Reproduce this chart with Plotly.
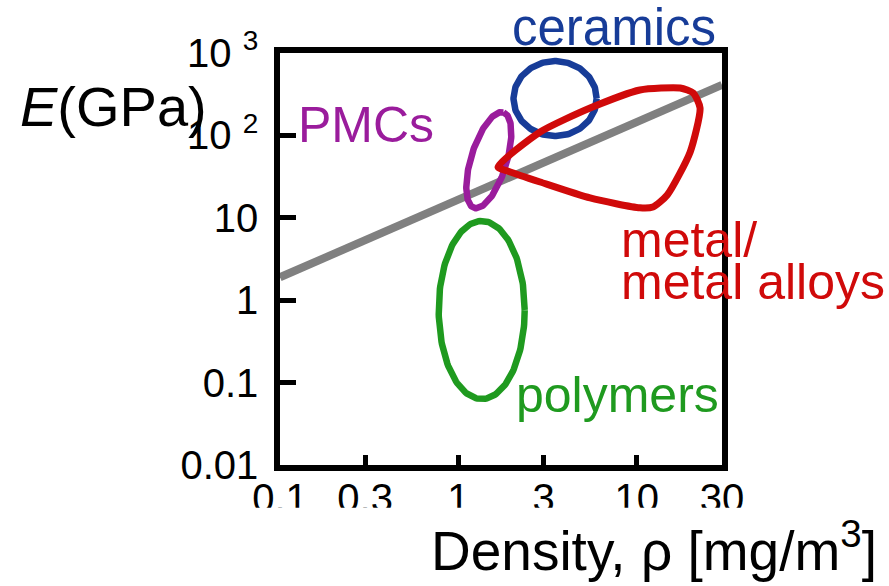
import numpy as np
import plotly.graph_objects as go

FONT = "Liberation Sans, Arial, sans-serif"

# Axis ticks
x_tickvals = [0.1, 0.3, 1, 3, 10, 30]
x_ticktext = ["0.1", "0.3", "1", "3", "10", "30"]
y_tickvals = [0.01, 0.1, 1, 10, 100, 1000]
y_ticktext = ["0.01", "0.1", "1", "10", "10 <sup>2</sup>", "10 <sup>3</sup>"]

# Grey guide line (density, modulus)
guide_density = [0.1, 30]
guide_modulus = [1.9, 410]

# Material families as ellipses in log-log space:
# centre (density, modulus) and two half-axis vectors in decades (dlog rho, dlog E)
ceramics_centre = (3.48, 280)
ceramics_axes = ((0.233, 0.0), (0.0, 0.455))

pmc_centre = (1.48, 50)
pmc_axes = ((0.082, 0.58), (0.096, -0.064))

polymer_centre = (1.35, 0.76)
polymer_axes = ((0.241, 0.0), (0.0, 1.08))

# Metal / metal alloy envelope outline (density, modulus)
metal_density = [1.667, 2.87, 5.47, 10.4, 17.5, 20.7, 22.6, 19.9, 14.8, 12.3, 10.4, 5.47, 2.87, 1.95, 1.667]
metal_modulus = [41.4, 110, 215, 356, 376, 327, 215, 63, 18.9, 13.5, 13.2, 17.4, 27.2, 36.0, 41.4]

BLUE = "#173c98"
PURPLE = "#9a1c9c"
RED = "#d00a0a"
GREEN = "#1f9a1f"
GREY = "#808080"


def ellipse(centre, axes, n=200):
    t = np.linspace(0, 2 * np.pi, n)
    (ux, uy), (vx, vy) = axes
    lx = np.log10(centre[0]) + ux * np.cos(t) + vx * np.sin(t)
    ly = np.log10(centre[1]) + uy * np.cos(t) + vy * np.sin(t)
    return 10 ** lx, 10 ** ly


fig = go.Figure()

fig.add_trace(go.Scatter(x=guide_density, y=guide_modulus, mode="lines",
                         line=dict(color=GREY, width=8), hoverinfo="skip"))

for centre, axes, colour in [(ceramics_centre, ceramics_axes, BLUE),
                             (pmc_centre, pmc_axes, PURPLE),
                             (polymer_centre, polymer_axes, GREEN)]:
    ex, ey = ellipse(centre, axes)
    fig.add_trace(go.Scatter(x=ex, y=ey, mode="lines",
                             line=dict(color=colour, width=6.5), hoverinfo="skip"))

fig.add_trace(go.Scatter(x=metal_density, y=metal_modulus, mode="lines",
                         line=dict(color=RED, width=7, shape="spline", smoothing=0.6),
                         hoverinfo="skip"))

axis_common = dict(type="log", showgrid=False, zeroline=False, showline=True,
                   linewidth=5.5, linecolor="black", mirror=True, ticks="inside",
                   tickwidth=5, tickcolor="black",
                   tickfont=dict(family=FONT, size=40, color="black"))

fig.update_xaxes(range=[-1, np.log10(30)], tickvals=x_tickvals, ticktext=x_ticktext,
                 ticklen=10, ticklabelstandoff=-7, **axis_common)
fig.update_yaxes(range=[-2, 3], tickvals=y_tickvals, ticktext=y_ticktext,
                 ticklen=16, ticklabelstandoff=8, **axis_common)


def label(text, x, y, colour, size=50, xanchor="left"):
    fig.add_annotation(text=text, x=x, y=y, xref="paper", yref="paper",
                       xanchor=xanchor, yanchor="middle", showarrow=False,
                       font=dict(family=FONT, size=size, color=colour))


label("ceramics", 0.520, 1.061, BLUE, size=51)
label("PMCs", 0.036, 0.825, PURPLE)
label("metal/", 0.768, 0.546, RED)
label("metal alloys", 0.768, 0.444, RED)
label("polymers", 0.530, 0.17, GREEN)
label("<i>E</i>(GPa)", -0.592, 0.869, "black", size=56)
label("Density, \u03c1 [mg/m<sup>3</sup>]", 0.338, -0.198, "black", size=55)

# White band trimming the lower edge of the density tick labels
fig.add_shape(type="rect", xref="paper", yref="paper", x0=-0.3, x1=1.2,
              y0=-0.138, y1=-0.104, fillcolor="white", line_width=0, layer="above")

fig.update_layout(width=889, height=586, margin=dict(l=280, r=167, t=53, b=121),
                  plot_bgcolor="white", paper_bgcolor="white", showlegend=False)

fig.write_html("out.html")
